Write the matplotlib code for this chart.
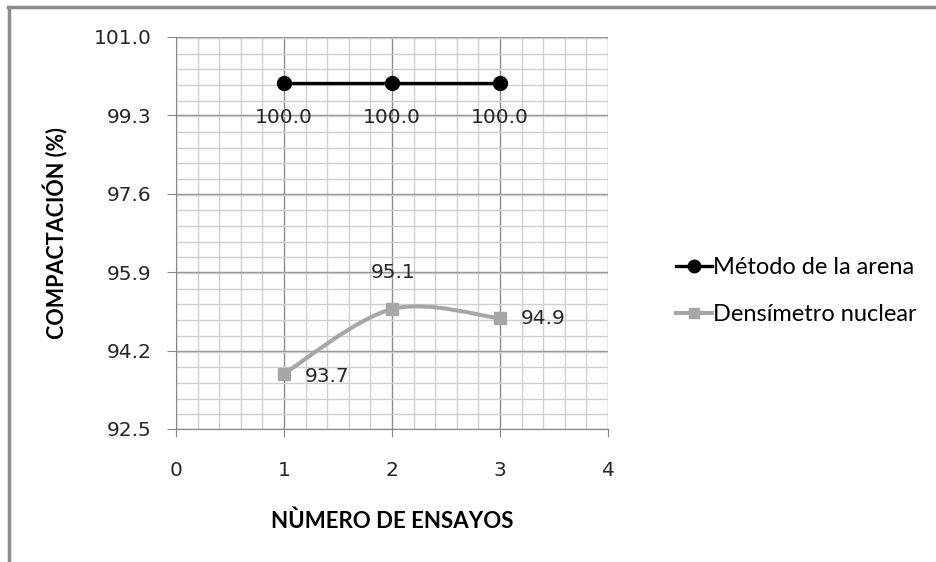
import numpy as np
import matplotlib.pyplot as plt
from matplotlib.path import Path
from matplotlib.patches import PathPatch
from matplotlib.lines import Line2D
from matplotlib.ticker import MultipleLocator, FixedLocator

# Datos de los ensayos
ensayos = [1, 2, 3]
metodo_arena = [100.0, 100.0, 100.0]
densimetro = [93.7, 95.1, 94.9]
y_ticks = [92.5, 94.2, 95.9, 97.6, 99.3, 101.0]
x_ticks = [0, 1, 2, 3, 4]

GRIS_LINEA = '#a6a6a6'
TXT = '#262626'


def curva_suave(xs, ys):
    # Curva tipo Excel: Bezier cubica con tangentes de Catmull-Rom
    P = np.column_stack([xs, ys]).astype(float)
    P = np.vstack([P[0], P, P[-1]])
    verts = [P[1]]
    codes = [Path.MOVETO]
    for i in range(1, len(P) - 2):
        c1 = P[i] + (P[i + 1] - P[i - 1]) / 6
        c2 = P[i + 1] - (P[i + 2] - P[i]) / 6
        verts += [c1, c2, P[i + 1]]
        codes += [Path.CURVE4] * 3
    return Path(verts, codes)


fig = plt.figure(figsize=(9.37, 5.62), dpi=100)
ax = fig.add_axes([176 / 937, 1 - 429 / 562, 432 / 937, 392 / 562])

ax.set_xlim(0, 4)
ax.set_ylim(92.5, 101.0)
ax.xaxis.set_major_locator(FixedLocator(x_ticks))
ax.yaxis.set_major_locator(FixedLocator(y_ticks))
ax.xaxis.set_minor_locator(MultipleLocator(0.2))
ax.yaxis.set_minor_locator(MultipleLocator(0.34))
ax.set_yticklabels([f'{v:.1f}' for v in y_ticks])

ax.grid(which='minor', color='#cfcfcf', lw=1.0)
ax.grid(which='major', color='#8c8c8c', lw=1.0)
ax.set_axisbelow(True)
ax.tick_params(which='major', direction='out', color='#868686',
               labelsize=14.5, labelcolor=TXT)
ax.tick_params(axis='y', length=6.5, pad=11)
ax.tick_params(axis='x', length=5.8, pad=17)
ax.tick_params(which='minor', length=0)
for lado in ['top', 'right']:
    ax.spines[lado].set_visible(False)
for lado in ['left', 'bottom']:
    ax.spines[lado].set_color('#868686')

# Serie 1: metodo de la arena
ax.plot(ensayos, metodo_arena, color='black', lw=2.4, marker='o', ms=10,
        label='Método de la arena', zorder=4)
for x, y in zip(ensayos, metodo_arena):
    ax.annotate(f'{y:.1f}', (x, y), xytext=(0, -25), textcoords='offset points',
                ha='center', va='center', fontsize=14.5, color=TXT)

# Serie 2: densimetro nuclear (linea suavizada)
ax.add_patch(PathPatch(curva_suave(ensayos, densimetro), fill=False,
                       edgecolor=GRIS_LINEA, lw=2.9, zorder=3))
ax.plot(ensayos, densimetro, ls='none', color=GRIS_LINEA, marker='s', ms=8,
        zorder=4)
ax.plot([], [], color=GRIS_LINEA, lw=2.9, marker='s', ms=8,
        label='Densímetro nuclear')
desplaz = [(15, -2, 'left', 'center'), (1, 26, 'center', 'center'),
           (15, 0, 'left', 'center')]
for (x, y), (dx, dy, ha, va) in zip(zip(ensayos, densimetro), desplaz):
    ax.annotate(f'{y:.1f}', (x, y), xytext=(dx, dy), textcoords='offset points',
                ha=ha, va=va, fontsize=14.5, color=TXT)

ax.set_xlabel('NÙMERO DE ENSAYOS', fontsize=16, fontweight='bold',
              family='Lato', labelpad=22, color='black')
ax.set_ylabel('COMPACTACIÓN (%)', fontsize=15.5, fontweight='bold',
              family='Lato', labelpad=18, color='black')

h, l = ax.get_legend_handles_labels()
fig.legend(h, l, loc='center left', bbox_to_anchor=(0.699, 0.482),
           frameon=False, prop={'family': 'Lato', 'size': 17},
           handlelength=1.5, handletextpad=0.05, labelspacing=1.13,
           markerscale=0.9, labelcolor='black')

# Borde del grafico (superior e izquierdo)
fig.add_artist(Line2D([8 / 937, 1], [1 - 7 / 562] * 2, color='#8c8c8c', lw=2.5,
                      transform=fig.transFigure))
fig.add_artist(Line2D([9 / 937] * 2, [0, 1 - 7 / 562], color='#8c8c8c', lw=2.5,
                      transform=fig.transFigure))

fig.savefig('out.png', dpi=100)
